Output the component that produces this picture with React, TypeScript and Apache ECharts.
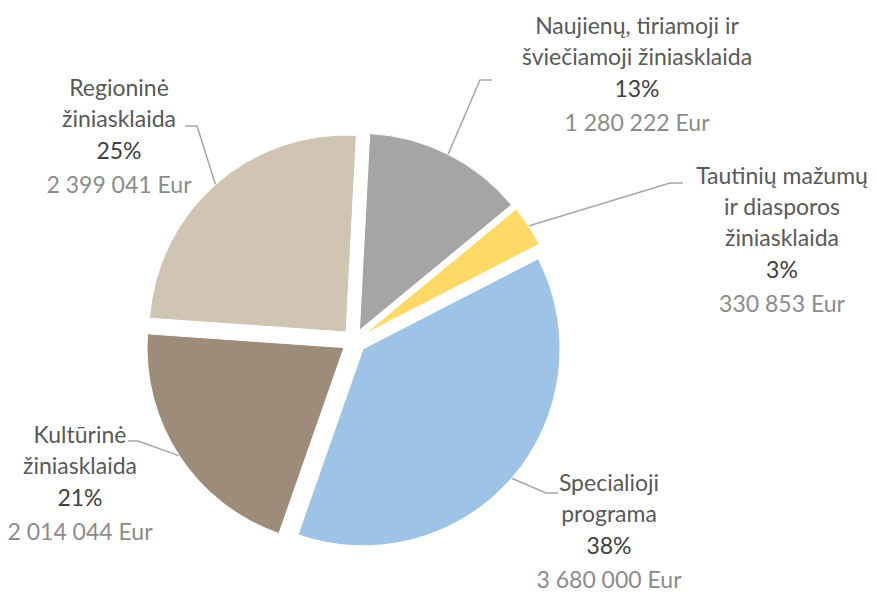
import React, { useEffect, useRef } from "react";
import * as echarts from "echarts";

const categories = [
  "Naujienų, tiriamoji ir\nšviečiamoji žiniasklaida",
  "Tautinių mažumų\nir diasporos\nžiniasklaida",
  "Specialioji\nprograma",
  "Kultūrinė\nžiniasklaida",
  "Regioninė\nžiniasklaida",
];
const values = [1280222, 330853, 3680000, 2014044, 2399041];
const colors = ["#A5A5A5", "#FFD966", "#9DC3E6", "#9E8C7A", "#D0C4B2"];

// label layout: text centre x, text top y, leader elbow and end points
const labelLayoutCfg = [
  { x: 637, y: 9, elbow: [480, 80], end: [492, 80] },
  { x: 782, y: 159, elbow: [670, 183], end: [683, 183] },
  { x: 609, y: 466, elbow: [546, 493], end: [558, 493] },
  { x: 80, y: 418, elbow: [138, 441], end: [128, 441] },
  { x: 119, y: 71, elbow: [197, 126], end: [185, 126] },
];

const CX = 354;
const CY = 341;
const RADIUS = 197;
const START_DEG = 3; // clockwise from 12 o'clock
const EXPLODE = 12;

const fmt = (v: number) => String(v).replace(/\B(?=(\d{3})+(?!\d))/g, " ");

export default function App() {
  const ref = useRef<HTMLDivElement>(null);
  useEffect(() => {
    const chart = echarts.init(ref.current!, null, { renderer: "svg" });
    const total = values.reduce((a, b) => a + b, 0);
    let cum = 0;
    const series = values.map((v, i) => {
      const midDeg = START_DEG + (360 * (cum + v / 2)) / total;
      cum += v;
      const rad = (midDeg * Math.PI) / 180;
      const cx = CX + EXPLODE * Math.sin(rad);
      const cy = CY - EXPLODE * Math.cos(rad);
      const cfg = labelLayoutCfg[i];
      return {
        type: "pie",
        center: [cx, cy],
        radius: RADIUS,
        startAngle: 90 - START_DEG,
        clockwise: true,
        silent: true,
        avoidLabelOverlap: false,
        emphasis: { disabled: true },
        data: categories.map((c, j) => ({
          name: c,
          value: values[j],
          itemStyle:
            j === i
              ? { color: colors[j], borderColor: "#ffffff", borderWidth: 1 }
              : { color: "rgba(0,0,0,0)", borderWidth: 0 },
          label: { show: j === i },
          labelLine: { show: j === i },
        })),
        label: {
          position: "outside",
          fontFamily: "Lato",
          formatter: (p: any) =>
            `{n|${p.name}}\n{p|${Math.round(p.percent)}%}\n{v|${fmt(p.value)} Eur}`,
          rich: {
            n: { fontSize: 23, lineHeight: 31, color: "#595959", fontFamily: "Lato", align: "center" },
            p: { fontSize: 23, lineHeight: 33, color: "#404040", fontFamily: "Lato", align: "center" },
            v: { fontSize: 23, lineHeight: 35, color: "#8C8C8C", fontFamily: "Lato", align: "center" },
          },
        },
        labelLine: {
          lineStyle: { color: "#A6A6A6", width: 1.5 },
        },
        labelLayout: (params: any) => {
          if (params.dataIndex !== i) return {};
          const pts = params.labelLinePoints;
          return {
            x: cfg.x,
            y: cfg.y,
            align: "center",
            verticalAlign: "top",
            labelLinePoints: pts ? [pts[0], cfg.elbow, cfg.end] : undefined,
          };
        },
      };
    });
    chart.setOption({
      animation: false,
      backgroundColor: "#ffffff",
      textStyle: { fontFamily: "Lato" },
      series,
    });
    return () => chart.dispose();
  }, []);
  return (
    <div
      ref={ref}
      style={{ position: "fixed", left: 0, top: 0, width: 877, height: 592 }}
    />
  );
}
